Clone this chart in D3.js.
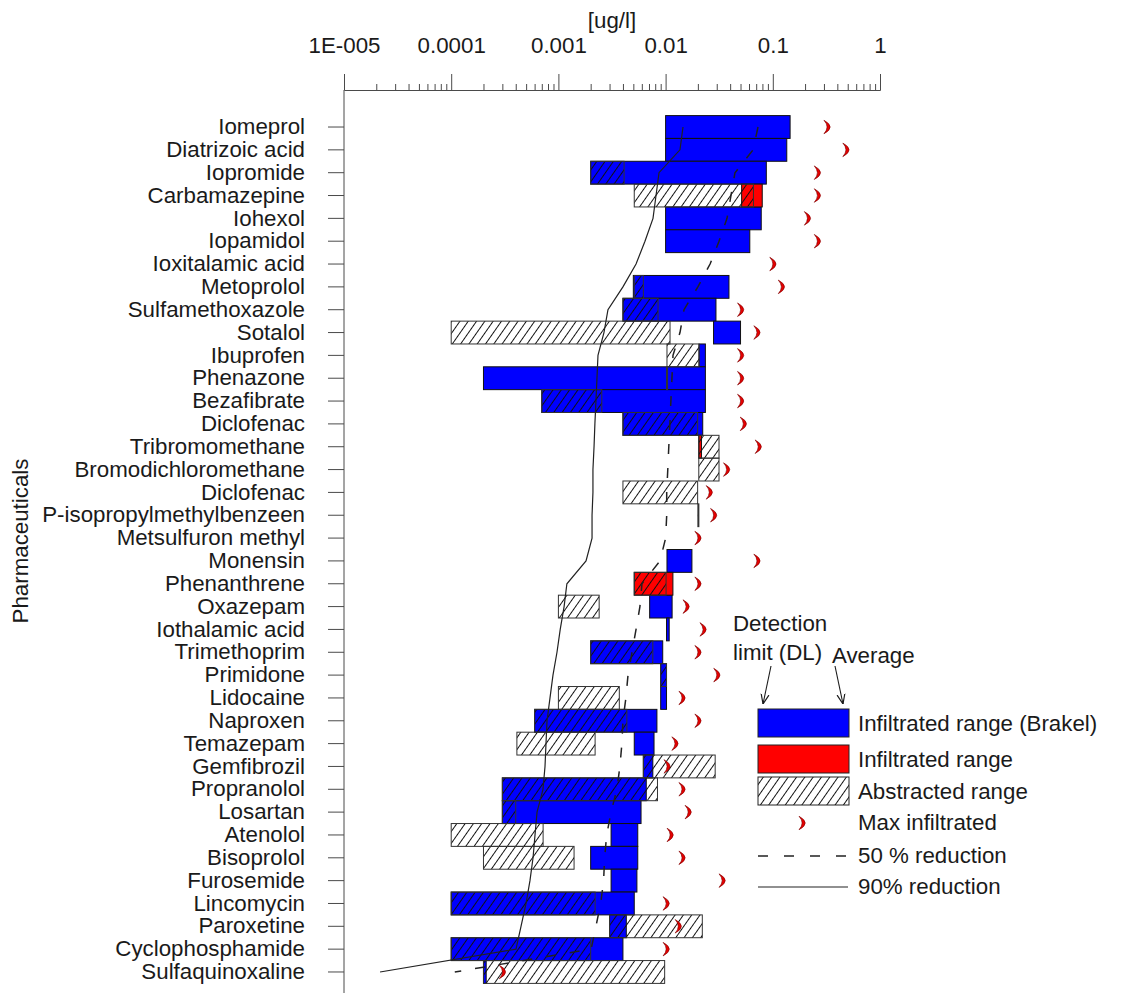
<!DOCTYPE html>
<html>
<head>
<meta charset="utf-8">
<script src="https://cdn.jsdelivr.net/npm/d3@7"></script>
<style>
  html, body { margin: 0; padding: 0; background: #fff; }
  svg { display: block; }
  text { font-family: "Liberation Sans", Arial, sans-serif; fill: #1a1a1a; }
</style>
</head>
<body>
<svg id="chart" width="1135" height="993"></svg>
<script>
// ---- data ----------------------------------------------------------------
const compounds = [
  "Iomeprol", "Diatrizoic acid", "Iopromide", "Carbamazepine", "Iohexol",
  "Iopamidol", "Ioxitalamic acid", "Metoprolol", "Sulfamethoxazole", "Sotalol",
  "Ibuprofen", "Phenazone", "Bezafibrate", "Diclofenac", "Tribromomethane",
  "Bromodichloromethane", "Diclofenac", "P-isopropylmethylbenzeen", "Metsulfuron methyl", "Monensin",
  "Phenanthrene", "Oxazepam", "Iothalamic acid", "Trimethoprim", "Primidone",
  "Lidocaine", "Naproxen", "Temazepam", "Gemfibrozil", "Propranolol",
  "Losartan", "Atenolol", "Bisoprolol", "Furosemide", "Lincomycin",
  "Paroxetine", "Cyclophosphamide", "Sulfaquinoxaline"
];

const tickValues = [1e-5, 1e-4, 1e-3, 1e-2, 1e-1, 1];
const tickLabels = ["1E-005", "0.0001", "0.001", "0.01", "0.1", "1"];

// infiltrated range at Brakel: [detection limit, average] in ug/l
const brakelRange = [
  [0.01, 0.145], [0.01, 0.135], [0.002, 0.087], null, [0.01, 0.078],
  [0.01, 0.061], null, [0.005, 0.039], [0.004, 0.0295], [0.028, 0.05],
  [0.0205, 0.0235], [0.0002, 0.0235], [0.0007, 0.0235], [0.004, 0.0222], null,
  null, null, null, null, [0.0103, 0.0176],
  null, [0.0071, 0.0115], [0.0102, 0.0108], [0.002, 0.0094], [0.009, 0.0102],
  [0.009, 0.0102], [0.0006, 0.0083], [0.0051, 0.0078], [0.0062, 0.0076], [0.0003, 0.0066],
  [0.0003, 0.0059], [0.0031, 0.0055], [0.002, 0.0055], [0.0031, 0.0054], [0.0001, 0.0051],
  [0.003, 0.0043], [0.0001, 0.004], [0.0002, 0.000212]
];

// infiltrated range (other sites): [detection limit, average]
const infiltratedRange = [
  null, null, null, [0.0512, 0.0797], null,
  null, null, null, null, null,
  null, null, null, null, [0.0204, 0.0216],
  null, null, null, null, null,
  [0.0051, 0.0117], null, null, null, null,
  null, null, null, null, null,
  null, null, null, null, null,
  null, null, null
];

// abstracted range: [detection limit, average]
const abstractedRange = [
  null, null, [0.002, 0.0041], [0.0051, 0.066], null,
  null, null, [0.0051, 0.0062], [0.004, 0.0085], [0.0001, 0.011],
  [0.0103, 0.0205], [0.0102, 0.0102], [0.0007, 0.00254], [0.004, 0.0199], [0.0204, 0.0315],
  [0.0204, 0.0315], [0.004, 0.0199], [0.02, 0.02], null, null,
  [0.0051, 0.0101], [0.001, 0.0024], null, [0.002, 0.0076], [0.009, 0.0102],
  [0.001, 0.0037], [0.0006, 0.00435], [0.00041, 0.0022], [0.0062, 0.029], [0.0003, 0.0084],
  [0.0003, 0.0004], [0.0001, 0.00072], [0.0002, 0.0014], null, [0.0001, 0.0022],
  [0.003, 0.022], [0.0001, 0.002], [0.0002, 0.0098]
];

// maximum infiltrated concentration
const maxInfiltrated = [
  0.32, 0.48, 0.26, 0.26, 0.21,
  0.26, 0.10, 0.12, 0.05, 0.071,
  0.05, 0.05, 0.05, 0.053, 0.073,
  0.037, 0.0255, 0.028, 0.020, 0.071,
  0.020, 0.0155, 0.0223, 0.020, 0.030,
  0.0142, 0.020, 0.0122, 0.0103, 0.0142,
  0.0162, 0.011, 0.0142, 0.0336, 0.0101,
  0.0131, 0.0101, 0.0003
];

// concentration after 50 % reduction
const reduction50 = [
  0.0728, 0.0654, 0.0444, 0.0407, 0.0374,
  0.0315, 0.0260, 0.0200, 0.01485, 0.01362,
  0.01172, 0.01146, 0.01120, 0.01096, 0.01071,
  0.01048, 0.01024, 0.01024, 0.01001, 0.00887,
  0.00602, 0.00576, 0.00530, 0.00486, 0.00446,
  0.00426, 0.00400, 0.00391, 0.00375, 0.00351,
  0.00310, 0.00282, 0.00270, 0.00264, 0.00248,
  0.00224, 0.00202, 0.000108
];

// concentration after 90 % reduction
const reduction90 = [
  0.01453, 0.01362, 0.00868, 0.00814, 0.00763,
  0.00642, 0.00530, 0.00400, 0.00290, 0.00266,
  0.00234, 0.00229, 0.00224, 0.00219, 0.00215,
  0.00210, 0.00210, 0.00206, 0.00206, 0.00181,
  0.00120, 0.00113, 0.00104, 0.00097, 0.00089,
  0.000835, 0.000783, 0.000766, 0.000750, 0.000718,
  0.000632, 0.000605, 0.000580, 0.000543, 0.000499,
  0.000448, 0.000402, 0.0000217
];

// ---- layout -------------------------------------------------------------
const svg = d3.select("#chart");
const axisY = 90;
const x = d3.scaleLog().domain([1e-5, 1]).range([344, 880]);
const y = d3.scaleBand().domain(d3.range(compounds.length)).range([115.6, 983.4]).padding(0);
const cy = i => y(i) + y.bandwidth() / 2;

const BLUE = "#0000ff", RED = "#ff0000", INK = "#1a1a1a", AXIS = "#4a4a4a";
const FONT = 22.3;

// diagonal hatch
const defs = svg.append("defs");
defs.append("pattern")
  .attr("id", "hatch")
  .attr("patternUnits", "userSpaceOnUse")
  .attr("width", 6.8).attr("height", 10)
  .attr("patternTransform", "rotate(35)")
  .append("path")
  .attr("d", "M3.4,-1 V11")
  .attr("stroke", "#111").attr("stroke-width", 1);

defs.append("marker")
  .attr("id", "arrow").attr("viewBox", "0 0 10 10")
  .attr("refX", 10).attr("refY", 5)
  .attr("markerWidth", 9).attr("markerHeight", 9)
  .attr("orient", "auto-start-reverse")
  .append("path").attr("d", "M0,1 L10,5 L0,9")
  .attr("fill", "none").attr("stroke", INK).attr("stroke-width", 1.2);

// ---- axes ---------------------------------------------------------------
const minorTicks = [];
tickValues.slice(0, -1).forEach(d => { for (let m = 2; m <= 9; m++) minorTicks.push(d * m); });

const gMinor = svg.append("g").attr("transform", `translate(0,${axisY})`)
  .call(d3.axisTop(x).tickValues(minorTicks).tickSize(6).tickFormat(""));
gMinor.select(".domain").remove();

const gTop = svg.append("g").attr("transform", `translate(0,${axisY})`)
  .call(d3.axisTop(x).tickValues(tickValues)
    .tickFormat((d, i) => tickLabels[i]).tickSize(16).tickPadding(21));

[gMinor, gTop].forEach(g => {
  g.selectAll("line").attr("stroke", AXIS);
  g.selectAll(".domain").attr("stroke", AXIS);
});
gTop.selectAll("text").attr("font-size", FONT).attr("fill", INK)
  .style("font-family", "'Liberation Sans', Arial, sans-serif");

svg.append("text").attr("x", 612).attr("y", 28).attr("text-anchor", "middle")
  .attr("font-size", FONT).text("[ug/l]");

// left category axis
const gLeft = svg.append("g").attr("transform", "translate(344,0)")
  .call(d3.axisLeft(y).tickSize(16).tickPadding(23).tickFormat(i => compounds[i]));
gLeft.select(".domain").remove();
gLeft.selectAll("line").attr("stroke", AXIS);
gLeft.selectAll("text").attr("font-size", FONT).attr("fill", INK)
  .style("font-family", "'Liberation Sans', Arial, sans-serif");

svg.append("line").attr("x1", 344).attr("x2", 344)
  .attr("y1", axisY).attr("y2", 993).attr("stroke", AXIS);

svg.append("text")
  .attr("transform", "translate(28,541) rotate(-90)")
  .attr("text-anchor", "middle").attr("font-size", FONT).text("Pharmaceuticals");

// ---- bars ---------------------------------------------------------------
function drawRanges(data, fill, stroke) {
  const rows = data.map((r, i) => r ? { i, lo: r[0], hi: r[1] } : null).filter(Boolean);
  svg.append("g").selectAll("rect").data(rows).join("rect")
    .attr("x", d => x(d.lo))
    .attr("y", d => y(d.i))
    .attr("width", d => Math.max(x(d.hi) - x(d.lo), 1))
    .attr("height", y.bandwidth())
    .attr("fill", fill)
    .attr("stroke", stroke).attr("stroke-width", 1);
}
drawRanges(brakelRange, BLUE, "#111");
drawRanges(infiltratedRange, RED, "#111");
drawRanges(abstractedRange, "url(#hatch)", "#333");

// ---- reduction lines ----------------------------------------------------
const line = d3.line().x(d => x(d)).y((d, i) => cy(i));
svg.append("path").attr("d", line(reduction50))
  .attr("fill", "none").attr("stroke", "#222").attr("stroke-width", 1.5)
  .attr("stroke-dasharray", "10,14");
svg.append("path").attr("d", line(reduction90))
  .attr("fill", "none").attr("stroke", "#222").attr("stroke-width", 1.2);

// ---- max infiltrated markers --------------------------------------------
const crescent = "M-3,-6.8 Q9.5,0 -3,6.8 Q3.2,0 -3,-6.8Z";
svg.append("g").selectAll("path").data(maxInfiltrated).join("path")
  .attr("d", crescent)
  .attr("transform", (d, i) => `translate(${x(d)},${cy(i)})`)
  .attr("fill", "#e60000").attr("stroke", "#7a0000").attr("stroke-width", 0.6);

// ---- legend -------------------------------------------------------------
const lg = svg.append("g").attr("font-size", FONT);
lg.append("text").attr("x", 733).attr("y", 631).text("Detection");
lg.append("text").attr("x", 733).attr("y", 660).text("limit (DL)");
lg.append("text").attr("x", 832).attr("y", 663).text("Average");
lg.append("line").attr("x1", 771).attr("y1", 666).attr("x2", 763).attr("y2", 704)
  .attr("stroke", INK).attr("stroke-width", 1.1).attr("marker-end", "url(#arrow)");
lg.append("line").attr("x1", 835).attr("y1", 666).attr("x2", 843).attr("y2", 704)
  .attr("stroke", INK).attr("stroke-width", 1.1).attr("marker-end", "url(#arrow)");

const legendItems = [
  { label: "Infiltrated range (Brakel)", fill: BLUE, y: 709 },
  { label: "Infiltrated range", fill: RED, y: 745 },
  { label: "Abstracted range", fill: "url(#hatch)", y: 777 }
];
legendItems.forEach(it => {
  lg.append("rect").attr("x", 758).attr("y", it.y).attr("width", 91).attr("height", 28)
    .attr("fill", it.fill).attr("stroke", "#222").attr("stroke-width", 1);
  lg.append("text").attr("x", 858).attr("y", it.y + 22).text(it.label);
});
lg.append("path").attr("d", crescent).attr("transform", "translate(802,823)")
  .attr("fill", "#e60000").attr("stroke", "#7a0000").attr("stroke-width", 0.6);
lg.append("text").attr("x", 858).attr("y", 830).text("Max infiltrated");
lg.append("line").attr("x1", 758).attr("x2", 848).attr("y1", 856).attr("y2", 856)
  .attr("stroke", "#222").attr("stroke-width", 1.5).attr("stroke-dasharray", "10,16");
lg.append("text").attr("x", 858).attr("y", 863).text("50 % reduction");
lg.append("line").attr("x1", 758).attr("x2", 848).attr("y1", 887).attr("y2", 887)
  .attr("stroke", "#222").attr("stroke-width", 1.2);
lg.append("text").attr("x", 858).attr("y", 894).text("90% reduction");
</script>
</body>
</html>
